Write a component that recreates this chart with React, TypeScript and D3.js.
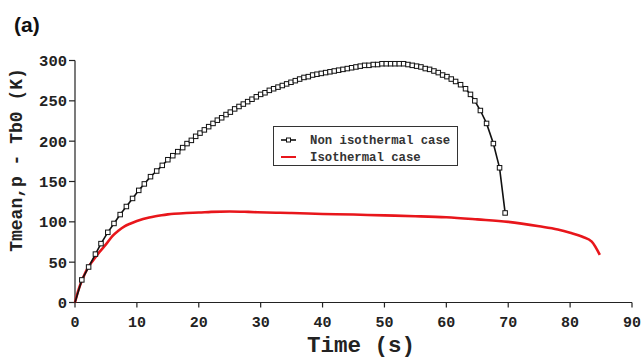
import React from "react";
import * as d3 from "d3";

const nonIsoTime = [0, 1.1, 2.2, 3.3, 4.2, 5.3, 6.3, 7.3, 8.3, 9.3, 10.3, 11.2, 12.2, 13.2, 14.1, 15.0, 15.8, 16.6, 17.4, 18.1, 18.8, 19.5, 20.2, 20.9, 21.6, 22.3, 23.0, 23.7, 24.4, 25.1, 25.8, 26.5, 27.2, 27.9, 28.6, 29.3, 30.0, 30.7, 31.4, 32.1, 32.8, 33.5, 34.2, 34.9, 35.6, 36.3, 37.0, 37.7, 38.4, 39.1, 39.8, 40.5, 41.2, 41.9, 42.6, 43.3, 44.0, 44.7, 45.4, 46.1, 46.8, 47.5, 48.2, 48.9, 49.6, 50.3, 51.0, 51.7, 52.4, 53.1, 53.8, 54.5, 55.2, 55.9, 56.6, 57.3, 58.0, 58.7, 59.4, 60.1, 60.8, 61.5, 62.3, 63.1, 63.9, 64.6, 65.5, 66.5, 67.6, 68.6, 69.5];
const nonIsoValue = [0, 28, 44, 60, 73, 87, 98, 109, 119, 129, 139, 147, 156, 163, 170, 177, 182, 187, 192, 197, 201, 206, 210, 214, 218, 222, 226, 229, 233, 236, 240, 243, 246, 249, 252, 255, 258, 260, 263, 265, 267, 269, 271, 273, 275, 277, 279, 280, 282, 283, 284, 285, 286, 287, 288, 289, 290, 291, 292, 293, 294, 294, 295, 295, 296, 296, 296, 296, 296, 296, 295, 294, 293, 292, 290, 289, 287, 285, 282, 280, 277, 274, 270, 265, 258, 250, 238, 222, 197, 167, 111];

const isoTime = [0, 0.5, 1.0, 1.5, 2.0, 3.0, 4.0, 5.0, 6.0, 7.0, 8.0, 9.0, 10.0, 11.0, 12.0, 13.0, 14.0, 15.0, 16.0, 18.0, 20.0, 22.0, 25.0, 28.0, 31.0, 35.0, 40.0, 45.0, 50.0, 55.0, 60.0, 65.0, 70.0, 75.0, 78.0, 80.0, 82.0, 83.5, 84.8];
const isoValue = [0, 14, 25, 34, 42, 53, 63, 72, 82, 89, 94.5, 98, 101, 103.5, 105.5, 107, 108.2, 109.2, 110, 111, 111.5, 112.3, 112.8, 112.3, 111.5, 111, 109.8, 109, 108, 107, 105.6, 103, 100, 94.5, 90.5, 86.5, 81.5, 75.5, 59];

const xTicks = [0, 10, 20, 30, 40, 50, 60, 70, 80, 90];
const yTicks = [0, 50, 100, 150, 200, 250, 300];
const seriesNames = ["Non isothermal case", "Isothermal case"];
const xTitle = "Time (s)";
const yTitle = "Tmean,p - Tb0 (K)";
const panelLabel = "(a)";

export default function App() {
  const W = 644, H = 357;
  const x = d3.scaleLinear().domain([0, 90]).range([75, 632]);
  const y = d3.scaleLinear().domain([0, 300]).range([302.5, 60.5]);
  const mono = "'Liberation Mono', 'Courier New', monospace";

  const nonIso = nonIsoTime.map((t, i) => [t, nonIsoValue[i]] as [number, number]);
  const iso = isoTime.map((t, i) => [t, isoValue[i]] as [number, number]);
  const line = d3.line<[number, number]>().x(d => x(d[0])).y(d => y(d[1]));
  const smooth = d3.line<[number, number]>().x(d => x(d[0])).y(d => y(d[1])).curve(d3.curveMonotoneX);

  const axisColor = "#222";
  const red = "#e8161b";
  const sq = 4.5;

  return (
    <svg width={W} height={H} style={{ position: "absolute", left: 0, top: 0, background: "#fff" }}>
      <text x={14} y={32} fontFamily="'Liberation Sans', Arial, sans-serif" fontWeight="bold" fontSize={21} fill="#111">{panelLabel}</text>

      {/* axes */}
      <line x1={x(0)} x2={x(0)} y1={y(300)} y2={y(0)} stroke={axisColor} strokeWidth={1.2} />
      <line x1={x(0)} x2={x(90)} y1={y(0)} y2={y(0)} stroke={axisColor} strokeWidth={1.2} />
      {yTicks.map(v => (
        <g key={"y" + v}>
          <line x1={x(0) - 6} x2={x(0)} y1={y(v)} y2={y(v)} stroke={axisColor} strokeWidth={1.2} />
          <text x={67} y={y(v)} dy="0.35em" textAnchor="end" fontFamily={mono} fontWeight="bold" fontSize={15.5} fill="#222">{v}</text>
        </g>
      ))}
      {xTicks.map(v => (
        <g key={"x" + v}>
          <line x1={x(v)} x2={x(v)} y1={y(0)} y2={y(0) + 5} stroke={axisColor} strokeWidth={1.2} />
          <text x={x(v)} y={327} textAnchor="middle" fontFamily={mono} fontWeight="bold" fontSize={15} fill="#222">{v}</text>
        </g>
      ))}
      <text x={361} y={351.5} textAnchor="middle" fontFamily={mono} fontWeight="bold" fontSize={22.5} fill="#222">{xTitle}</text>
      <text transform="translate(21.5,160) rotate(-90)" textAnchor="middle" fontFamily={mono} fontWeight="bold" fontSize={18} fill="#222">{yTitle}</text>

      {/* isothermal */}
      <path d={smooth(iso) || ""} fill="none" stroke={red} strokeWidth={2.6} strokeLinejoin="round" />

      {/* non isothermal */}
      <path d={line(nonIso) || ""} fill="none" stroke="#111" strokeWidth={1.6} />
      {nonIso.slice(1).map((d, i) => (
        <rect key={i} x={x(d[0]) - sq / 2} y={y(d[1]) - sq / 2} width={sq} height={sq} fill="#fff" stroke="#111" strokeWidth={1} />
      ))}

      {/* legend */}
      <rect x={273.5} y={126.5} width={184} height={39} fill="#fff" stroke="#333" strokeWidth={1} />
      <line x1={281} x2={296} y1={140} y2={140} stroke="#111" strokeWidth={1.6} />
      <rect x={288.5 - 2} y={140 - 2} width={4} height={4} fill="#fff" stroke="#111" strokeWidth={1} />
      <text x={310} y={140} dy="0.35em" fontFamily={mono} fontSize={12.3} fontWeight="bold" fill="#333">{seriesNames[0]}</text>
      <line x1={281} x2={296} y1={157} y2={157} stroke={red} strokeWidth={2} />
      <text x={310} y={157} dy="0.35em" fontFamily={mono} fontSize={12.3} fontWeight="bold" fill="#333">{seriesNames[1]}</text>
    </svg>
  );
}
